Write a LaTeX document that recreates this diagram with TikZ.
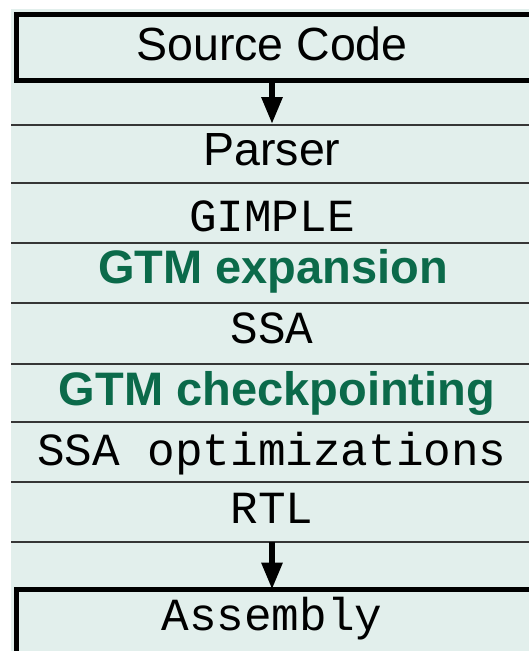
\documentclass[tikz,border=0pt]{standalone}
\usepackage{fontspec}
\usetikzlibrary{arrows.meta}
\newfontfamily\helv{Liberation Sans}
\newfontfamily\cour{Liberation Mono}
\definecolor{panel}{HTML}{E2EFEC}
\definecolor{gtmgreen}{HTML}{0B6A4A}
\definecolor{rule}{HTML}{363636}
\tikzset{
  sanslabel/.style={anchor=base, inner sep=0pt, font=\helv\fontsize{46.5}{50}\selectfont},
  monolabel/.style={anchor=base, inner sep=0pt, font=\cour\fontsize{46}{50}\selectfont},
  gtmlabel/.style={anchor=base, inner sep=0pt, text=gtmgreen, font=\helv\bfseries\fontsize{47}{50}\selectfont},
  framebox/.style={draw=black, line width=5pt, fill=panel, anchor=north west, inner sep=0pt,
    minimum width=560pt},
  bandrule/.style={draw=rule, line width=1.8pt},
  flowarrow/.style={draw=black, line width=6pt, -{Triangle[length=27pt,width=20pt]}}
}
\begin{document}
\begin{tikzpicture}[x=1pt, y=-1pt]
  \clip (0,0) rectangle (529,651);
  \fill[white] (0,0) rectangle (529,651);
  % light panel behind the whole stack
  \fill[panel] (11,9) rectangle (580,680);

  % input and output frames (their right and lower sides run off the page)
  \node[framebox, minimum height=66.5pt] (srcframe) at (13.5,11.5) {};
  \node[framebox, minimum height=100pt] (asmframe) at (13.5,587) {};

  % separators between the compiler passes
  \foreach \yy in {125,183,243,303,364,422,482,542}
    \draw[bandrule] (11,\yy) -- (580,\yy);

  % stage labels
  \node[sanslabel] (src)    at (272,60)  {Source Code};
  \node[sanslabel] (parser) at (272,165) {Parser};
  \node[monolabel] (gimple) at (272,231) {GIMPLE};
  \node[gtmlabel]  (gtmexp) at (273,283) {GTM expansion};
  \node[monolabel] (ssa)    at (272,343) {SSA};
  \node[gtmlabel]  (gtmck)  at (277,405) {GTM checkpointing};
  \node[monolabel] (ssaopt) at (272,465) {SSA optimizations};
  \node[monolabel] (rtl)    at (272,523) {RTL};
  \node[monolabel] (asm)    at (272,630) {Assembly};

  % flow arrows
  \coordinate (parsertop) at (272,124);
  \coordinate (rtlbottom) at (272,542);
  \draw[flowarrow] (srcframe.south -| parsertop) -- (parsertop);
  \draw[flowarrow] (rtlbottom) -- ([yshift=-2.5pt]asmframe.north -| rtlbottom);
\end{tikzpicture}
\end{document}
